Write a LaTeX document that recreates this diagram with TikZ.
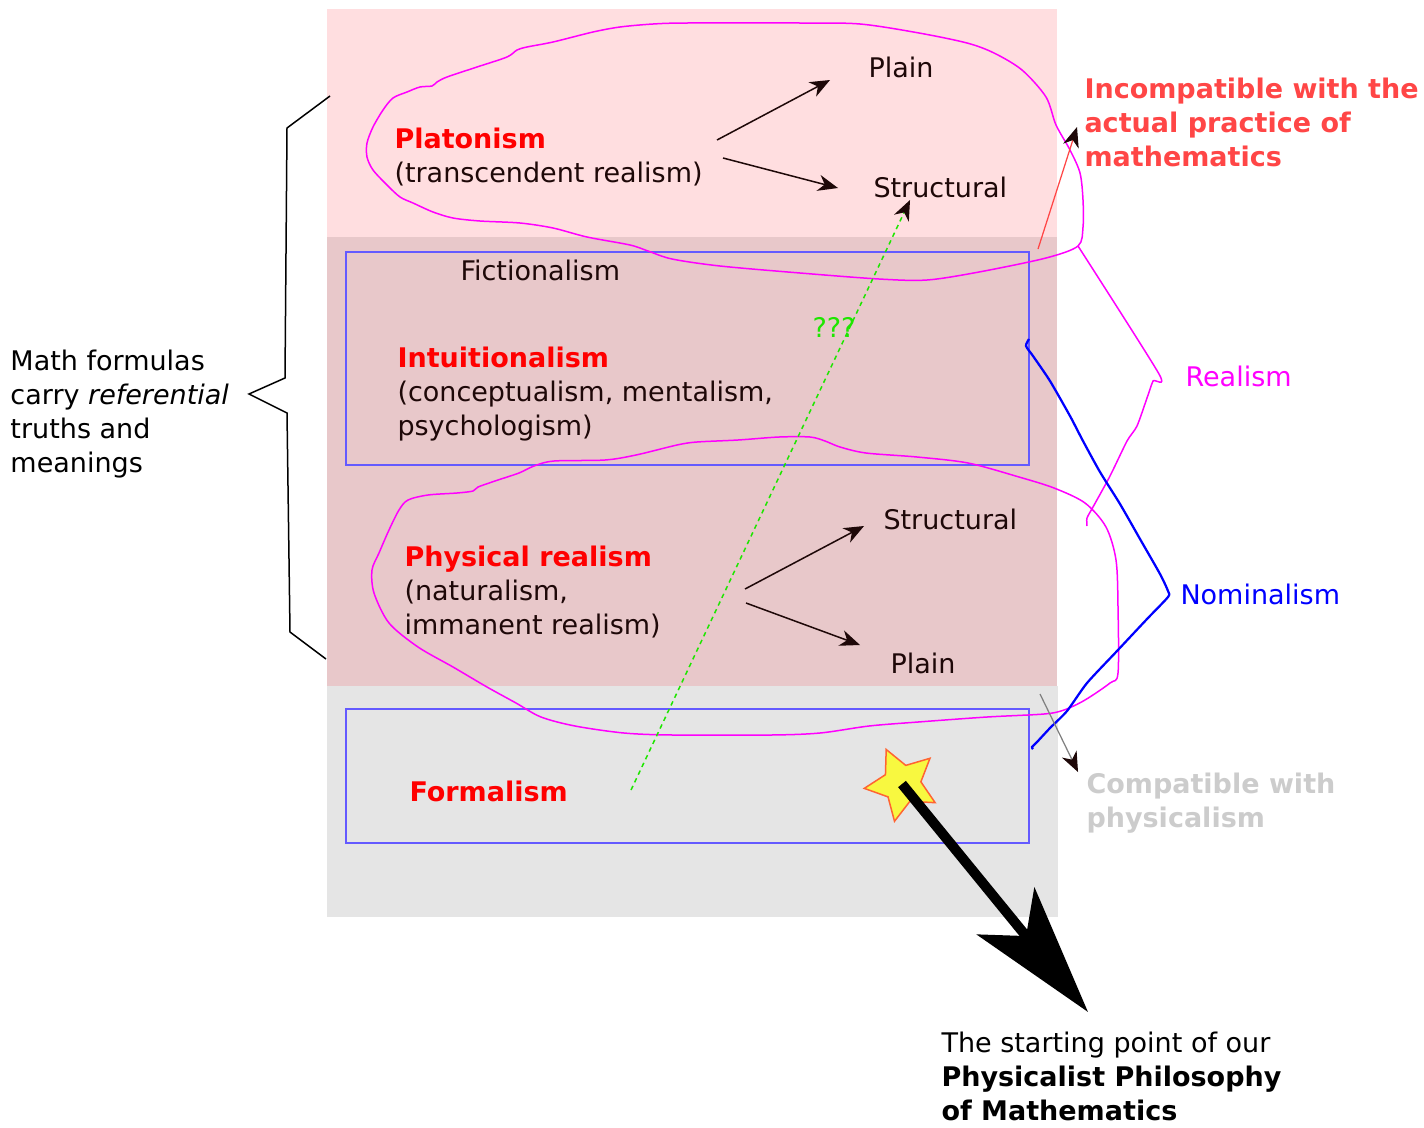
\documentclass[tikz,border=0pt]{standalone}
\usepackage{fontspec}
\setmainfont{DejaVu Sans}
\usetikzlibrary{arrows.meta,shapes.geometric}

\definecolor{pinkbg}{RGB}{255,222,224}
\definecolor{rosebg}{RGB}{232,200,202}
\definecolor{graybg}{RGB}{229,229,229}
\definecolor{boxblue}{RGB}{100,90,255}
\definecolor{ink}{RGB}{30,8,8}
\definecolor{warnred}{RGB}{255,70,70}
\definecolor{okgray}{RGB}{204,204,204}
\definecolor{qgreen}{RGB}{30,230,0}
\definecolor{mag}{RGB}{255,0,255}
\definecolor{nomblue}{RGB}{0,0,255}
\definecolor{staryellow}{RGB}{248,248,64}
\definecolor{starline}{RGB}{255,100,50}

\tikzset{
  txt/.style={anchor=base west,inner sep=0pt,align=left,text=ink,font=\fontsize{10.8}{13.6}\selectfont},
  school/.style={txt,text=red,font=\fontsize{10.8}{13.6}\selectfont\bfseries},
  tip/.style={-{Stealth[length=8pt,width=6.5pt,inset=2.5pt,color=ink]}},
  branch/.style={tip,draw=ink,line width=0.6pt},
  blob/.style={mag,line width=0.6pt},
}

\begin{document}
\begin{tikzpicture}[x=0.4pt,y=-0.4pt]
\useasboundingbox (0,0) rectangle (1424,1127);

\fill[pinkbg] (327,9) rectangle (1057,237);
\fill[rosebg] (327,237) rectangle (1057,686);
\fill[graybg] (327,686) rectangle (1058,917);
\draw[boxblue,line width=0.5pt] (346,252) rectangle (1029,465);
\draw[boxblue,line width=0.5pt] (346,709) rectangle (1029,843);

% left brace
\draw[black,line width=0.6pt] (330,96) -- (287,128) -- (285,378) -- (249,394) -- (287,413) -- (290,632) -- (326,659);

% realism blobs
\draw[blob] plot[smooth cycle,tension=0.5] coordinates {(800,23) (860,24) (919,33) (967,43) (994,53) (1022,70) (1046,97) (1056,125) (1070,150) (1080,173) (1083,200) (1083,227) (1078,246) (1046,258) (979,272) (927,280) (879,279) (800,273) (720,266) (672,259) (648,251) (630,245) (587,237) (553,228) (520,223) (480,221) (453,218) (433,212) (413,203) (400,197) (387,185) (373,170) (367,157) (367,143) (373,127) (383,110) (393,98) (407,92) (420,87) (432,86) (437,82) (447,77) (477,67) (507,57) (517,50) (527,47) (553,42) (593,32) (620,27) (653,24) (687,23)};
\draw[blob] plot[smooth cycle,tension=0.5] coordinates {(473,491) (478,487) (498,480) (519,473) (534,466) (554,461) (605,460) (636,455) (677,445) (697,442) (738,440) (779,437) (810,437) (825,441) (840,447) (866,453) (917,457) (968,463) (1019,477) (1054,488) (1085,503) (1106,527) (1116,560) (1118,607) (1118,673) (1110,683) (1085,700) (1064,710) (1044,714) (987,717) (918,722) (869,726) (820,733) (771,735) (673,735) (624,733) (575,726) (541,717) (516,703) (487,687) (453,667) (418,647) (389,623) (374,593) (372,570) (379,553) (389,530) (399,510) (408,500) (428,495) (457,493)};
\draw[blob] plot[smooth,tension=0.4] coordinates {(1078,246) (1159,374) (1153,381) (1147,398) (1137,426) (1127,441) (1110,476) (1093,507) (1087,518) (1087,526)};
\draw[nomblue,line width=0.9pt] plot[smooth,tension=0.4] coordinates {(1029,339) (1026,346) (1033,356) (1050,381) (1070,416) (1083,441) (1100,472) (1120,504) (1140,539) (1160,574) (1168,591) (1168,597) (1147,619) (1117,651) (1087,683) (1067,711) (1050,728) (1037,742) (1032,747) (1033,749)};

% texts
\node[txt] (plainT) at (868,77) {Plain};
\node[txt] (structT) at (873,197) {Structural};
\node[school] (plato) at (394,148) {Platonism};
\node[txt] (platoD) at (394,182) {(transcendent realism)};
\node[txt] (fict) at (460,280) {Fictionalism};
\node[school] (intu) at (397,367) {Intuitionalism};
\node[txt] (intuD) at (397,435) {(conceptualism, mentalism,\\psychologism)};
\node[txt,text=qgreen] (qq) at (812,337) {???};
\node[school] (phys) at (404,566) {Physical realism};
\node[txt] (physD) at (404,634) {(naturalism,\\immanent realism)};
\node[txt] (structB) at (883,529) {Structural};
\node[txt] (plainB) at (890,673) {Plain};
\node[school] (form) at (409,801) {Formalism};
\node[school,text=warnred] (incomp) at (1084,166) {Incompatible with the\\actual practice of\\mathematics};
\node[txt,text=mag] (real) at (1185,386) {Realism};
\node[txt,text=nomblue] (nomi) at (1180,604) {Nominalism};
\node[school,text=okgray] (comp) at (1086,827) {Compatible with\\physicalism};
\node[txt,text=black] (math) at (10,472) {Math formulas\\carry \textit{referential}\\truths and\\meanings};
\node[txt,text=black] (start) at (941,1120) {The starting point of our\\\textbf{Physicalist Philosophy}\\\textbf{of Mathematics}};

% arrows
\coordinate (platoA) at (717,140);
\coordinate (platoB) at (723,158);
\coordinate (plainTin) at (830,80);
\coordinate (structTin) at (838,188);
\coordinate (physA) at (745,589);
\coordinate (physB) at (746,603);
\coordinate (structBin) at (864,526);
\coordinate (plainBin) at (860,645);
\draw[branch] (platoA) -- (plainTin);
\draw[branch] (platoB) -- (structTin);
\draw[branch] (physA) -- (structBin);
\draw[branch] (physB) -- (plainBin);

\coordinate (formOut) at (631,790);
\coordinate (structTlow) at (910,200);
\draw[qgreen,line width=0.6pt,dash pattern=on 1.8pt off 1.6pt,tip] (formOut) -- (structTlow);

\coordinate (warnFrom) at (1038,249);
\coordinate (warnTo) at (1077,127);
\draw[warnred,line width=0.5pt,tip] (warnFrom) -- (warnTo);
\coordinate (okFrom) at (1040,694);
\coordinate (okTo) at (1078,772);
\draw[gray,line width=0.5pt,tip] (okFrom) -- (okTo);

\node[star,star points=5,star point ratio=2,minimum size=30.4pt,inner sep=0pt,rotate=24.6,draw=starline,fill=staryellow,line width=0.6pt] (star) at (902,784) {};
\coordinate (bigTip) at (1088,1012);
\draw[black,line width=4pt,-{Stealth[length=52pt,width=29.6pt,inset=12.8pt]}] (star.center) -- (bigTip);
\end{tikzpicture}
\end{document}
